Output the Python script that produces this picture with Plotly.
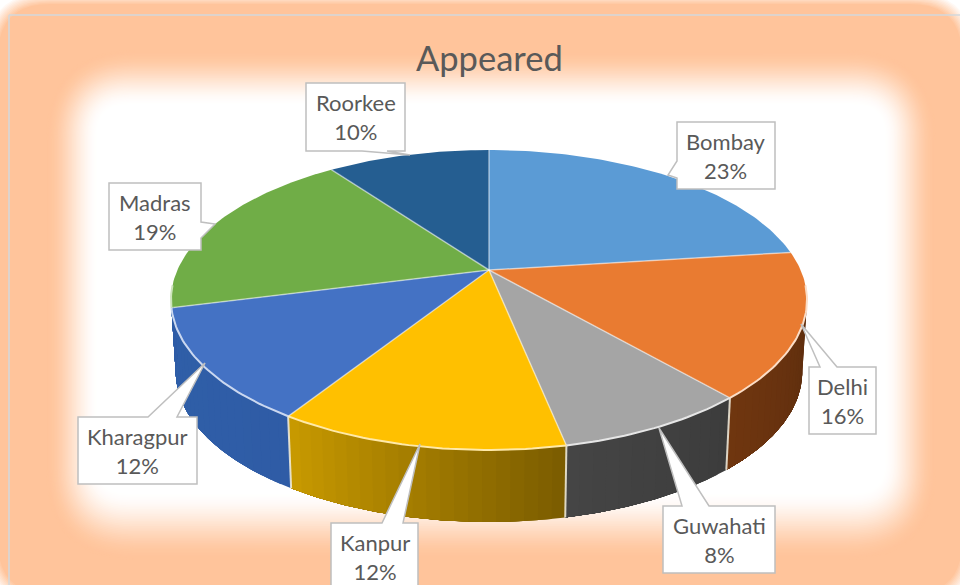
import math
import plotly.graph_objects as go

# ---- data ----
categories = ["Bombay", "Delhi", "Guwahati", "Kanpur", "Kharagpur", "Madras", "Roorkee"]
values = [23, 15.6, 8.2, 12.2, 12, 19, 10]
title_text = "Appeared"

# ---- styles / layout ----
top_colors = ["#5B9BD5", "#E97B31", "#A5A5A5", "#FFC000", "#4472C4", "#70AD47", "#255E91"]
wall_colors = [
    ("#7A3D12", "#7A3D12"), ("#5A2C0E", "#70360F"), ("#3C3C3C", "#454545"),
    ("#7A5C00", "#C99A00"), ("#2F5CA6", "#2F5FA8"), ("#2F5CA6", "#2F5CA6"), ("#1F4E79", "#1F4E79"),
]
rim_colors = ["#BFD7EE", "#FBDDC6", "#E6E6E6", "#FFE9A8", "#CBD8F0", "#CDE4BC", "#AECBE6"]

CX, CY = 489.0, 270.0
RX0, RY0, K = 311.6, 144.0, 0.2
DEPTH, XSHRINK = 72.0, 0.985
ORANGE = (255, 196, 155)

def project(deg, bottom=False):
    a = math.radians(deg)
    u, v = math.sin(a), -math.cos(a)
    d = 1 - K * v
    x, y = RX0 * u / d, RY0 * v / d
    if bottom:
        return CX + x * XSHRINK, CY + y + DEPTH
    return CX + x, CY + y

def arc(a0, a1, bottom=False, step=1.0):
    n = max(2, int(abs(a1 - a0) / step) + 1)
    return [project(a0 + (a1 - a0) * i / (n - 1), bottom) for i in range(n)]

def hex2rgb(h):
    return tuple(int(h[i:i + 2], 16) for i in (1, 3, 5))

def mix(c0, c1, t):
    return "rgb(%d,%d,%d)" % tuple(round(a + (b - a) * t) for a, b in zip(c0, c1))

def round_rect(x0, y0, x1, y1, r):
    return (f"M{x0+r},{y0} L{x1-r},{y0} Q{x1},{y0} {x1},{y0+r} L{x1},{y1-r} Q{x1},{y1} {x1-r},{y1} "
            f"L{x0+r},{y1} Q{x0},{y1} {x0},{y1-r} L{x0},{y0+r} Q{x0},{y0} {x0+r},{y0} Z")

total = sum(values)
edges = [0.0]
for val in values:
    edges.append(edges[-1] + 360.0 * val / total)

fig = go.Figure()

def poly(pts, fill, width=0.0):
    xs = [p[0] for p in pts] + [pts[0][0]]
    ys = [p[1] for p in pts] + [pts[0][1]]
    fig.add_trace(go.Scatter(x=xs, y=ys, mode="lines", fill="toself", fillcolor=fill,
                             line=dict(color=fill, width=width), hoverinfo="skip", showlegend=False))

def stroke(pts, color, width):
    fig.add_trace(go.Scatter(x=[p[0] for p in pts], y=[p[1] for p in pts], mode="lines",
                             line=dict(color=color, width=width), hoverinfo="skip", showlegend=False))

# walls: shaded in overlapping strips so no seams show
WALL_FROM, WALL_TO = 96.0, 264.0
for i in range(len(values)):
    a0, a1 = max(edges[i], WALL_FROM), min(edges[i + 1], WALL_TO)
    if a1 <= a0:
        continue
    c0, c1 = hex2rgb(wall_colors[i][0]), hex2rgb(wall_colors[i][1])
    n = max(1, int((a1 - a0) / 2))
    for s in range(n):
        s0 = a0 + (a1 - a0) * s / n
        col = mix(c0, c1, (s + 0.5) / n)
        poly(arc(s0, a1, step=0.5) + arc(a1, s0, bottom=True, step=0.5), col)

# vertical seams between visible walls
for i in range(1, len(values)):
    if 110 < edges[i] < 250:
        stroke([project(edges[i]), project(edges[i], True)], "rgba(245,240,225,0.85)", 2)

# top faces
apex = (CX, CY)
for i in range(len(values)):
    poly([apex] + arc(edges[i], edges[i + 1]), top_colors[i])

# slice separators and front rim
for i in range(len(values)):
    stroke([apex, project(edges[i])], "rgba(255,255,255,0.5)", 1.5)
    a0, a1 = max(edges[i], 96.0), min(edges[i + 1], 264.0)
    if a1 > a0:
        stroke(arc(a0, a1), rim_colors[i], 2)

# glowing frame (painted under everything)
shapes = []
OUT = 10
for s in range(OUT):
    t = (s + 1) / OUT
    shapes.append(dict(type="path", path=round_rect(-14 + 12 * t, -8 + 12 * t, 974 - 12 * t, 606 - 12 * t, 60 - 8 * t),
                       fillcolor=mix((255, 255, 255), ORANGE, t), line=dict(width=0), layer="below"))
STEPS = 40
for s in range(STEPS + 1):
    t = s / STEPS
    te = t * t * (3 - 2 * t)
    shapes.append(dict(type="path",
                       path=round_rect(46 + 52 * t, 50 + 56 * t, 936 - 52 * t, 560 - 68 * t, 90 - 60 * t),
                       fillcolor=mix(ORANGE, (255, 255, 255), te), line=dict(width=0), layer="below"))

# thin chart frame
FRAME = "#D3D9DC"
shapes.append(dict(type="line", x0=9, y0=15, x1=960, y1=15, line=dict(color=FRAME, width=1.5), layer="below"))
shapes.append(dict(type="line", x0=9, y0=15, x1=9, y1=585, line=dict(color=FRAME, width=1.5), layer="below"))

# callouts: box (x0, y0, x1, y1), wedge base side and tip
callouts = {
    "Bombay":    dict(box=(677, 122, 775, 189), side="left",   base=(161, 178), tip=(668, 175)),
    "Delhi":     dict(box=(809, 367, 876, 434), side="top",    base=(820, 837), tip=(801, 324)),
    "Guwahati":  dict(box=(663, 506, 775, 573), side="top",    base=(682, 709), tip=(659, 428)),
    "Kanpur":    dict(box=(331, 523, 418, 590), side="top",    base=(382, 403), tip=(420, 444)),
    "Kharagpur": dict(box=(78, 417, 197, 484),  side="top",    base=(148, 177), tip=(205, 363)),
    "Madras":    dict(box=(109, 183, 201, 250), side="right",  base=(222, 238), tip=(215, 224)),
    "Roorkee":   dict(box=(306, 83, 405, 151),  side="bottom", base=(362, 387), tip=(410, 155)),
}

annotations = [dict(x=489, y=57, text=title_text, showarrow=False, xanchor="center", yanchor="middle",
                    font=dict(family="Lato", size=34.5, color="#595959"))]

for name, val in zip(categories, values):
    c = callouts[name]
    x0, y0, x1, y1 = c["box"]
    b0, b1 = c["base"]
    tx, ty = c["tip"]
    if c["side"] == "top":
        p = f"M{x0},{y0} L{b0},{y0} L{tx},{ty} L{b1},{y0} L{x1},{y0} L{x1},{y1} L{x0},{y1} Z"
    elif c["side"] == "bottom":
        p = f"M{x0},{y0} L{x1},{y0} L{x1},{y1} L{b1},{y1} L{tx},{ty} L{b0},{y1} L{x0},{y1} Z"
    elif c["side"] == "left":
        p = f"M{x0},{y0} L{x1},{y0} L{x1},{y1} L{x0},{y1} L{x0},{b1} L{tx},{ty} L{x0},{b0} Z"
    else:
        p = f"M{x0},{y0} L{x1},{y0} L{x1},{b0} L{tx},{ty} L{x1},{b1} L{x1},{y1} L{x0},{y1} Z"
    shapes.append(dict(type="path", path=p, fillcolor="#FFFFFF", line=dict(color="#BFBFBF", width=1.5), layer="above"))
    annotations.append(dict(x=(x0 + x1) / 2, y=(y0 + y1) / 2 if name != "Kanpur" else 557,
                            text=f"{name}<br>{val:.0f}%",
                            showarrow=False, xanchor="center", yanchor="middle", align="center",
                            font=dict(family="Lato", size=22, color="#595959")))

fig.update_layout(
    width=960, height=585, autosize=False,
    margin=dict(l=0, r=0, t=0, b=0),
    paper_bgcolor="#FFFFFF", plot_bgcolor="rgba(0,0,0,0)",
    showlegend=False, shapes=shapes, annotations=annotations,
    xaxis=dict(range=[0, 960], visible=False, fixedrange=True),
    yaxis=dict(range=[585, 0], visible=False, fixedrange=True),
)
fig.write_html("out.html", config=dict(displayModeBar=False),
               post_script="document.body.style.margin='0';document.body.style.overflow='hidden';")
